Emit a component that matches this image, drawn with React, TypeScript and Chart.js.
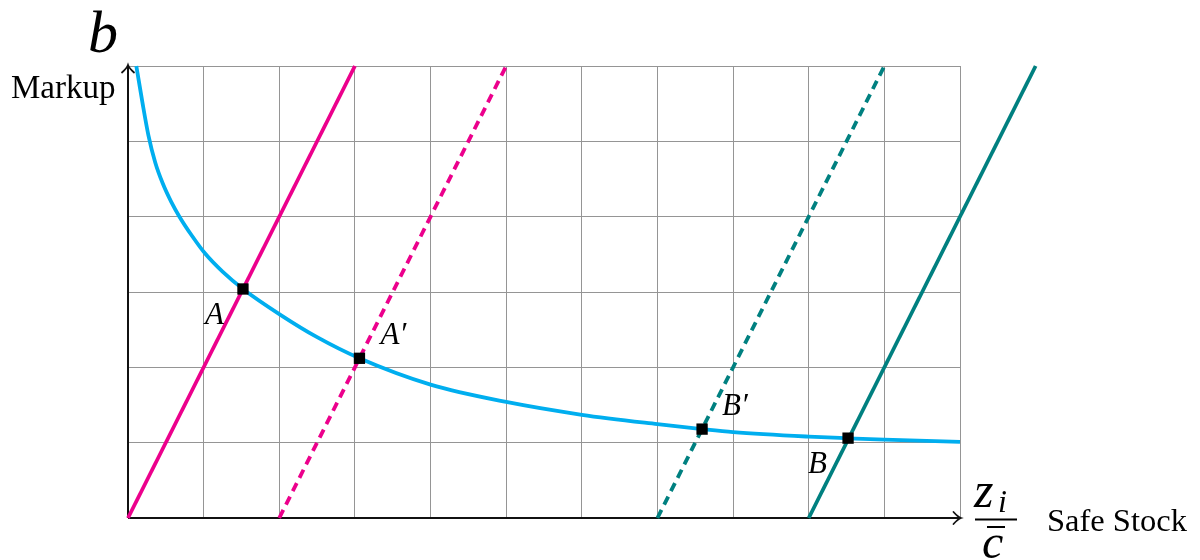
import React, { useEffect, useRef } from "react";
import { Chart, registerables } from "chart.js";

Chart.register(...registerables);

// Markup curve
const curveX = [0.11, 0.19, 0.27, 0.36, 0.46, 0.57, 0.68, 0.85, 1.02, 1.25, 1.52, 2.01, 2.5, 3.06, 4.0, 5.0, 6.0, 7.0, 7.59, 8.0, 9.0, 9.52, 10.0, 11.0];
const curveY = [6.0, 5.52, 5.08, 4.72, 4.44, 4.2, 4.0, 3.74, 3.51, 3.27, 3.04, 2.7, 2.4, 2.12, 1.77, 1.54, 1.37, 1.245, 1.18, 1.14, 1.08, 1.058, 1.04, 1.01];

// Straight lines (end points)
const lineAX = [0, 3];
const lineAY = [0, 6];
const lineA2X = [2, 5];
const lineA2Y = [0, 6];
const lineB2X = [7, 10];
const lineB2Y = [0, 6];
const lineBX = [9, 12];
const lineBY = [0, 6];

// Intersection markers
const markerX = [1.52, 3.06, 7.59, 9.52];
const markerY = [3.04, 2.12, 1.18, 1.06];
const markerLabels = ["A", "A\u2032", "B\u2032", "B"];

const xMin = 0;
const xMax = 11;
const yMin = 0;
const yMax = 6;

const MAGENTA = "#EC008C";
const CYAN = "#00AEEF";
const TEAL = "#008080";

const pts = (xs: number[], ys: number[]) => xs.map((x, i) => ({ x, y: ys[i] }));

export default function App() {
  const ref = useRef<HTMLCanvasElement>(null);

  useEffect(() => {
    const serif = "'Liberation Serif', 'Times New Roman', serif";

    const arrowHead = (ctx: CanvasRenderingContext2D, x: number, y: number, dir: "up" | "right") => {
      ctx.beginPath();
      if (dir === "up") {
        ctx.moveTo(x - 6, y + 7.5);
        ctx.quadraticCurveTo(x - 1, y + 3, x, y);
        ctx.quadraticCurveTo(x + 1, y + 3, x + 6, y + 7.5);
      } else {
        ctx.moveTo(x - 7.5, y - 6);
        ctx.quadraticCurveTo(x - 3, y - 1, x, y);
        ctx.quadraticCurveTo(x - 3, y + 1, x - 7.5, y + 6);
      }
      ctx.stroke();
    };

    const overlay = {
      id: "overlay",
      beforeDatasetsDraw(chart: any) {
        const { ctx, chartArea } = chart;
        const { left, top, right, bottom } = chartArea;
        ctx.save();
        ctx.strokeStyle = "#111";
        ctx.lineWidth = 2;
        ctx.lineCap = "butt";
        ctx.beginPath();
        ctx.moveTo(left, bottom);
        ctx.lineTo(left, top);
        ctx.moveTo(left, bottom);
        ctx.lineTo(right, bottom);
        ctx.stroke();
        ctx.lineWidth = 1.8;
        ctx.lineCap = "round";
        arrowHead(ctx, left, top - 1, "up");
        arrowHead(ctx, right + 1, bottom, "right");
        ctx.restore();
      },
      afterDatasetsDraw(chart: any) {
        const { ctx, chartArea } = chart;
        const { left, top, right, bottom } = chartArea;
        ctx.save();
        ctx.fillStyle = "#000";
        ctx.textBaseline = "alphabetic";
        ctx.textAlign = "left";

        // marker labels
        const meta = chart.getDatasetMeta(0);
        const offsets = [
          [-38, 35],
          [21, -14],
          [20, -14],
          [-40, 35],
        ];
        ctx.font = `italic 31px ${serif}`;
        meta.data.forEach((el: any, i: number) => {
          ctx.fillText(markerLabels[i], el.x + offsets[i][0], el.y + offsets[i][1]);
        });

        // y axis labels
        ctx.font = `italic 60px ${serif}`;
        ctx.fillText("b", left - 40, top - 14);
        ctx.font = `33px ${serif}`;
        ctx.fillText("Markup", left - 117, top + 32);

        // x axis labels: fraction z_i / c-bar
        ctx.font = `italic 50px ${serif}`;
        ctx.fillText("z", right + 14, bottom - 11);
        ctx.font = `italic 32px ${serif}`;
        ctx.fillText("i", right + 38, bottom - 6);
        ctx.font = `italic 48px ${serif}`;
        ctx.fillText("c", right + 22, bottom + 40);
        ctx.strokeStyle = "#000";
        ctx.lineWidth = 1.8;
        ctx.beginPath();
        ctx.moveTo(right + 15, bottom + 1.5);
        ctx.lineTo(right + 57, bottom + 1.5);
        ctx.moveTo(right + 27, bottom + 9);
        ctx.lineTo(right + 45, bottom + 9);
        ctx.stroke();

        ctx.font = `32.5px ${serif}`;
        ctx.fillText("Safe Stock", right + 87, bottom + 13);
        ctx.restore();
      },
    };

    const chart = new Chart(ref.current!, {
      type: "scatter",
      data: {
        datasets: [
          {
            data: pts(markerX, markerY),
            showLine: false,
            pointStyle: "rect",
            pointRadius: 8,
            pointBackgroundColor: "#000",
            pointBorderWidth: 0,
            pointBorderColor: "#000",
          },
          {
            data: pts(curveX, curveY),
            showLine: true,
            borderColor: CYAN,
            borderWidth: 3.8,
            pointRadius: 0,
            cubicInterpolationMode: "monotone",
            clip: false,
          },
          {
            data: pts(lineAX, lineAY),
            showLine: true,
            borderColor: MAGENTA,
            borderWidth: 3.8,
            pointRadius: 0,
            clip: false,
          },
          {
            data: pts(lineA2X, lineA2Y),
            showLine: true,
            borderColor: MAGENTA,
            borderWidth: 3.8,
            borderDash: [9, 6],
            pointRadius: 0,
            clip: false,
          },
          {
            data: pts(lineB2X, lineB2Y),
            showLine: true,
            borderColor: TEAL,
            borderWidth: 3.8,
            borderDash: [9, 6],
            pointRadius: 0,
            clip: false,
          },
          {
            data: pts(lineBX, lineBY),
            showLine: true,
            borderColor: TEAL,
            borderWidth: 3.8,
            pointRadius: 0,
            clip: false,
          },
        ],
      } as any,
      options: {
        responsive: false,
        animation: false,
        layout: { padding: { left: 128, top: 66, right: 240, bottom: 42 } },
        scales: {
          x: {
            type: "linear",
            min: xMin,
            max: xMax,
            ticks: { stepSize: 1, display: false },
            grid: { color: "#959595", lineWidth: 1, drawTicks: false },
            border: { display: false },
          },
          y: {
            type: "linear",
            min: yMin,
            max: yMax,
            ticks: { stepSize: 1, display: false },
            grid: { color: "#959595", lineWidth: 1, drawTicks: false },
            border: { display: false },
          },
        },
        plugins: {
          legend: { display: false },
          tooltip: { enabled: false },
        },
      } as any,
      plugins: [overlay],
    });
    return () => chart.destroy();
  }, []);

  return (
    <div style={{ position: "absolute", left: 0, top: 0, width: 1200, height: 560 }}>
      <canvas ref={ref} width={1200} height={560} style={{ display: "block" }} />
    </div>
  );
}
